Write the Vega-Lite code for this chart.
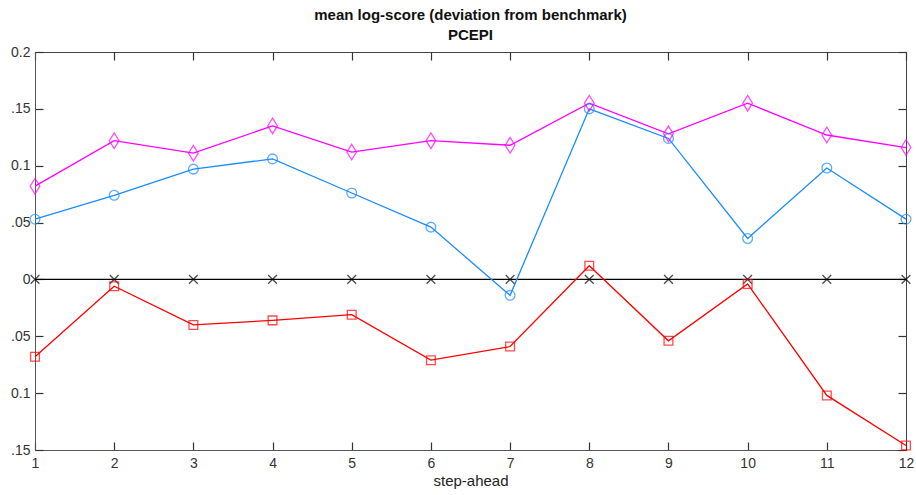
{
  "$schema": "https://vega.github.io/schema/vega-lite/v6.json",
  "autosize": "none",
  "width": 871,
  "height": 398,
  "padding": {"left": 35, "top": 52, "right": 10, "bottom": 45},
  "background": "white",
  "config": {
    "view": {"stroke": "#444", "strokeWidth": 1},
    "font": "Liberation Sans Narrow, Liberation Sans, Arial",
    "axis": {"grid": false, "labelFont": "Liberation Sans Narrow, Liberation Sans", "labelFontSize": 14, "labelColor": "#333", "domainColor": "#555", "tickColor": "#333", "tickSize": -8, "tickWidth": 1.2}
  },
  "title": {"text": ["mean log-score (deviation from benchmark)", "PCEPI"], "fontSize": 15, "fontWeight": "bold", "font": "Liberation Sans Narrow, Liberation Sans", "color": "#111", "offset": 2, "anchor": "middle", "lineHeight": 20},
  "data": {"values": [
    {"step": 1, "series": "bench", "v": 0}, {"step": 2, "series": "bench", "v": 0}, {"step": 3, "series": "bench", "v": 0}, {"step": 4, "series": "bench", "v": 0}, {"step": 5, "series": "bench", "v": 0}, {"step": 6, "series": "bench", "v": 0}, {"step": 7, "series": "bench", "v": 0}, {"step": 8, "series": "bench", "v": 0}, {"step": 9, "series": "bench", "v": 0}, {"step": 10, "series": "bench", "v": 0}, {"step": 11, "series": "bench", "v": 0}, {"step": 12, "series": "bench", "v": 0},
    {"step": 1, "series": "red", "v": -0.068}, {"step": 2, "series": "red", "v": -0.006}, {"step": 3, "series": "red", "v": -0.040}, {"step": 4, "series": "red", "v": -0.036}, {"step": 5, "series": "red", "v": -0.031}, {"step": 6, "series": "red", "v": -0.071}, {"step": 7, "series": "red", "v": -0.059}, {"step": 8, "series": "red", "v": 0.012}, {"step": 9, "series": "red", "v": -0.054}, {"step": 10, "series": "red", "v": -0.004}, {"step": 11, "series": "red", "v": -0.102}, {"step": 12, "series": "red", "v": -0.146},
    {"step": 1, "series": "blue", "v": 0.053}, {"step": 2, "series": "blue", "v": 0.074}, {"step": 3, "series": "blue", "v": 0.097}, {"step": 4, "series": "blue", "v": 0.106}, {"step": 5, "series": "blue", "v": 0.076}, {"step": 6, "series": "blue", "v": 0.046}, {"step": 7, "series": "blue", "v": -0.014}, {"step": 8, "series": "blue", "v": 0.150}, {"step": 9, "series": "blue", "v": 0.124}, {"step": 10, "series": "blue", "v": 0.036}, {"step": 11, "series": "blue", "v": 0.098}, {"step": 12, "series": "blue", "v": 0.053},
    {"step": 1, "series": "magenta", "v": 0.082}, {"step": 2, "series": "magenta", "v": 0.122}, {"step": 3, "series": "magenta", "v": 0.111}, {"step": 4, "series": "magenta", "v": 0.135}, {"step": 5, "series": "magenta", "v": 0.112}, {"step": 6, "series": "magenta", "v": 0.122}, {"step": 7, "series": "magenta", "v": 0.118}, {"step": 8, "series": "magenta", "v": 0.155}, {"step": 9, "series": "magenta", "v": 0.128}, {"step": 10, "series": "magenta", "v": 0.155}, {"step": 11, "series": "magenta", "v": 0.127}, {"step": 12, "series": "magenta", "v": 0.116}
  ]},
  "resolve": {"axis": {"x": "independent", "y": "independent"}},
  "layer": [
    {
      "mark": {"type": "line", "strokeWidth": 1.3, "clip": false},
      "encoding": {
        "x": {"field": "step", "type": "quantitative", "scale": {"domain": [1, 12], "nice": false, "zero": false}, "axis": {"orient": "bottom", "values": [1,2,3,4,5,6,7,8,9,10,11,12], "title": "step-ahead", "titleFont": "Liberation Sans Narrow, Liberation Sans", "titleFontSize": 15, "titleFontWeight": "normal", "titleColor": "#222", "titlePadding": 3, "labelPadding": 14, "labelFlush": false}},
        "y": {"field": "v", "type": "quantitative", "scale": {"domain": [-0.15, 0.2], "nice": false, "zero": false}, "axis": {"orient": "left", "values": [-0.15, -0.1, -0.05, 0, 0.05, 0.1, 0.15, 0.2], "title": null, "labelPadding": 13, "labelExpr": "abs(datum.value)==0.15 ? '.15' : abs(datum.value)==0.05 ? '.05' : abs(datum.value)==0.1 ? '0.1' : abs(datum.value)==0.2 ? '0.2' : '0'", "labelFlush": false}},
        "color": {"field": "series", "type": "nominal", "scale": {"domain": ["bench", "red", "blue", "magenta"], "range": ["#000000", "#ff0000", "#1a8cff", "#ff00ff"]}, "legend": null},
        "detail": {"field": "series"}
      }
    },
    {
      "mark": {"type": "point", "filled": false, "strokeWidth": 1.3, "size": 95, "clip": false},
      "encoding": {
        "x": {"field": "step", "type": "quantitative", "scale": {"domain": [1, 12], "nice": false, "zero": false}, "axis": {"orient": "top", "values": [1,2,3,4,5,6,7,8,9,10,11,12], "labels": false, "title": null, "domain": false}},
        "y": {"field": "v", "type": "quantitative", "scale": {"domain": [-0.15, 0.2], "nice": false, "zero": false}, "axis": {"orient": "right", "values": [-0.15, -0.1, -0.05, 0, 0.05, 0.1, 0.15, 0.2], "labels": false, "title": null, "domain": false}},
        "color": {"field": "series", "type": "nominal", "scale": {"domain": ["bench", "red", "blue", "magenta"], "range": ["#000000", "#ff0000", "#1a8cff", "#ff00ff"]}, "legend": null},
        "shape": {"field": "series", "type": "nominal", "scale": {"domain": ["bench", "red", "blue", "magenta"], "range": ["M-0.9,-0.9L0.9,0.9M-0.9,0.9L0.9,-0.9", "M-0.9,-0.9L0.9,-0.9L0.9,0.9L-0.9,0.9Z", "circle", "M0,-1.6L1,0L0,1.6L-1,0Z"]}, "legend": null}
      }
    }
  ]
}
